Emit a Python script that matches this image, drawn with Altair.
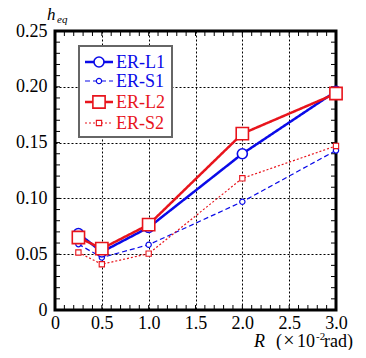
import altair as alt
import pandas as pd

R = [0.25, 0.5, 1.0, 2.0, 3.0]
L1 = [0.0685, 0.052, 0.074, 0.140, 0.196]
S1 = [0.059, 0.047, 0.0585, 0.097, 0.143]
L2 = [0.065, 0.055, 0.0765, 0.158, 0.194]
S2 = [0.0515, 0.041, 0.0505, 0.118, 0.147]

names = ["ER-L1", "ER-S1", "ER-L2", "ER-S2"]
values = [L1, S1, L2, S2]
BLUE = "#0a0ae8"
RED = "#e8141c"
colors = [BLUE, BLUE, RED, RED]
shapes = ["circle", "circle", "square", "square"]
sizes = [100, 28, 150, 28]
widths = [2.5, 1.2, 2.5, 1.2]
dashes = [[1, 0], [5, 3], [1, 0], [2, 2]]
mwidths = [1.6, 1.2, 1.6, 1.1]

x_ticks = [i / 10 for i in range(31)]
y_ticks = [i / 100 for i in range(26)]
x_major = [0, 0.5, 1.0, 1.5, 2.0, 2.5, 3.0]
y_major = [0, 0.05, 0.10, 0.15, 0.20, 0.25]

W, H = 281, 279
FONT = "Liberation Serif"

xs = alt.Scale(domain=[0, 3], nice=False, zero=False)
ys = alt.Scale(domain=[0, 0.25], nice=False, zero=False)

xtick_df = pd.DataFrame({"v": x_ticks})
ytick_df = pd.DataFrame({"v": y_ticks})

xaxis = alt.Axis(values=x_major, grid=True, gridColor="black", gridDash=[2, 2], gridWidth=1,
                 gridOpacity=1, ticks=False, domain=False, labelFont=FONT, labelFontSize=18,
                 labelColor="black", labelPadding=4,
                 labelExpr="datum.value == 0 ? '0' : format(datum.value, '.1f')",
                 title=None, labelFlush=False, labelOverlap=False)
yaxis = alt.Axis(values=y_major, grid=True, gridColor="black", gridDash=[2, 2], gridWidth=1,
                 gridOpacity=1, ticks=False, domain=False, labelFont=FONT, labelFontSize=18,
                 labelColor="black", labelPadding=8,
                 labelExpr="datum.value == 0 ? '0' : format(datum.value, '.2f')",
                 title=None, labelFlush=False, labelOverlap=False)

layers = []
layers.append(alt.Chart(xtick_df).mark_rule(color="black", strokeWidth=1).encode(
    x=alt.X("v:Q", scale=xs, axis=xaxis), y=alt.value(H), y2=alt.value(H - 5)))
layers.append(alt.Chart(xtick_df).mark_rule(color="black", strokeWidth=1).encode(
    x=alt.X("v:Q", scale=xs, axis=xaxis), y=alt.value(0), y2=alt.value(5)))
layers.append(alt.Chart(ytick_df).mark_rule(color="black", strokeWidth=1).encode(
    y=alt.Y("v:Q", scale=ys, axis=yaxis), x=alt.value(0), x2=alt.value(5)))
layers.append(alt.Chart(ytick_df).mark_rule(color="black", strokeWidth=1).encode(
    y=alt.Y("v:Q", scale=ys, axis=yaxis), x=alt.value(W), x2=alt.value(W - 5)))

order = [1, 3, 0, 2]
for i in order:
    df = pd.DataFrame({"R": R, "h": values[i]})
    base = alt.Chart(df).encode(x=alt.X("R:Q", scale=xs, axis=xaxis),
                                y=alt.Y("h:Q", scale=ys, axis=yaxis))
    layers.append(base.mark_line(color=colors[i], strokeWidth=widths[i], strokeDash=dashes[i]))
    layers.append(base.mark_point(shape=shapes[i], size=sizes[i], filled=True, fill="white",
                                  stroke=colors[i], strokeWidth=mwidths[i], opacity=1))

one = alt.Chart(pd.DataFrame({"a": [0]}))
# legend box
layers.append(one.mark_rect(fill="white", stroke="#666666", strokeWidth=2).encode(
    x=alt.value(24), x2=alt.value(117), y=alt.value(15), y2=alt.value(106)))
leg_y = [31, 50, 71, 92]
for i in range(4):
    layers.append(one.mark_rule(color=colors[i], strokeWidth=widths[i], strokeDash=dashes[i]).encode(
        x=alt.value(30), x2=alt.value(58), y=alt.value(leg_y[i])))
    layers.append(one.mark_point(shape=shapes[i], size=sizes[i], filled=True, fill="white",
                                 stroke=colors[i], strokeWidth=mwidths[i], opacity=1).encode(
        x=alt.value(44), y=alt.value(leg_y[i])))
    layers.append(one.mark_text(text=names[i], font=FONT, fontSize=18, color=colors[i], align="left",
                                baseline="middle").encode(x=alt.value(61), y=alt.value(leg_y[i] + 1)))

# y title
layers.append(one.mark_text(text="h", font=FONT, fontSize=17, fontStyle="italic", color="black",
                            align="left", baseline="alphabetic").encode(x=alt.value(-8), y=alt.value(-11)))
layers.append(one.mark_text(text="eq", font=FONT, fontSize=11, fontStyle="italic", color="black",
                            align="left", baseline="alphabetic").encode(x=alt.value(2), y=alt.value(-8)))
# x title
TY = 316
layers.append(one.mark_text(text="R", font=FONT, fontSize=18, fontStyle="italic", color="black",
                            align="left", baseline="alphabetic").encode(x=alt.value(199), y=alt.value(TY)))
layers.append(one.mark_text(text="(", font=FONT, fontSize=18, color="black",
                            align="left", baseline="alphabetic").encode(x=alt.value(221), y=alt.value(TY)))
layers.append(one.mark_text(text="×", font=FONT, fontSize=20, color="black",
                            align="center", baseline="alphabetic").encode(x=alt.value(234), y=alt.value(TY)))
layers.append(one.mark_text(text="10", font=FONT, fontSize=18, color="black",
                            align="left", baseline="alphabetic").encode(x=alt.value(242), y=alt.value(TY)))
layers.append(one.mark_text(text="-2", font=FONT, fontSize=11, color="black",
                            align="left", baseline="alphabetic").encode(x=alt.value(261), y=alt.value(TY - 7)))
layers.append(one.mark_text(text="rad)", font=FONT, fontSize=18, color="black",
                            align="left", baseline="alphabetic").encode(x=alt.value(269), y=alt.value(TY)))

chart = alt.layer(*layers).properties(
    width=W, height=H,
    autosize=alt.AutoSizeParams(type="none"),
    padding={"left": 47, "top": 23, "right": 22, "bottom": 40},
    background="white",
).configure_view(stroke="black", strokeWidth=3)

chart.save("out.html", embed_options={"renderer": "svg", "actions": False})
